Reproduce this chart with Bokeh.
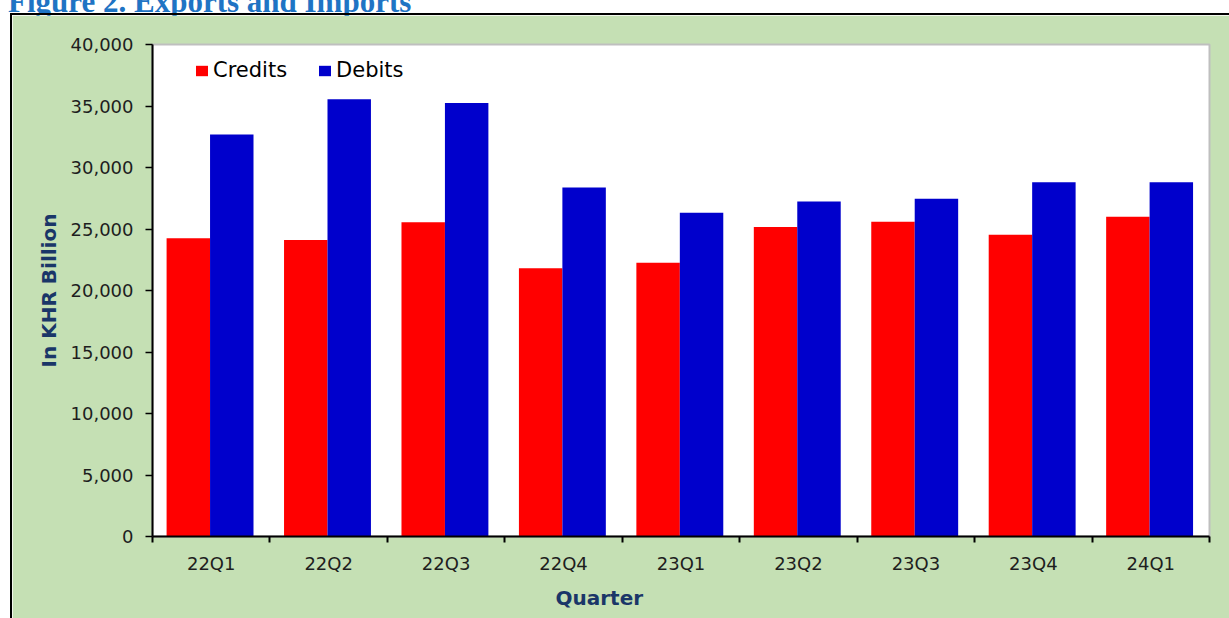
from bokeh.plotting import figure
from bokeh.models import (Range1d, FixedTicker, NumeralTickFormatter, Legend, LegendItem,
                          Title, Div, Spacer, ColumnDataSource)
from bokeh.layouts import column, row
from bokeh.embed import file_html
from bokeh.resources import INLINE

quarters = ["22Q1", "22Q2", "22Q3", "22Q4", "23Q1", "23Q2", "23Q3", "23Q4", "24Q1"]
credits = [24240, 24100, 25540, 21800, 22260, 25160, 25590, 24530, 26000]
debits = [32680, 35540, 35240, 28380, 26320, 27240, 27450, 28800, 28800]
y_ticks = [0, 5000, 10000, 15000, 20000, 25000, 30000, 35000, 40000]

GREEN = "#c5e0b4"
NAVY = "#1a3668"
TICK_COLOR = "#1e1e1e"

centers = [i + 0.5 for i in range(len(quarters))]
src = ColumnDataSource(dict(
    xc=[c - 0.195 for c in centers],
    xd=[c + 0.175 for c in centers],
    credits=credits, debits=debits))

p = figure(width=1217, height=603, output_backend="svg", toolbar_location=None,
           x_range=Range1d(0, len(quarters)), y_range=Range1d(0, 40000),
           min_border_left=140, min_border_right=20, min_border_top=29, min_border_bottom=82,
           margin=0)
p.border_fill_color = GREEN
p.background_fill_color = "white"
p.outline_line_color = "#bfbfbf"
p.outline_line_width = 2
p.xgrid.visible = False
p.ygrid.visible = False

r1 = p.vbar(x="xc", top="credits", width=0.37, source=src, fill_color="#ff0000", line_color=None)
r2 = p.vbar(x="xd", top="debits", width=0.37, source=src, fill_color="#0000cc", line_color=None)

# x axis
xa = p.xaxis[0]
xa.ticker = FixedTicker(ticks=centers, minor_ticks=list(range(len(quarters) + 1)))
xa.major_label_overrides = {c: q for c, q in zip(centers, quarters)}
xa.major_tick_out = 0
xa.major_tick_in = 0
xa.minor_tick_out = 6
xa.minor_tick_in = 0
xa.minor_tick_line_color = "black"
xa.minor_tick_line_width = 2
xa.axis_line_color = "black"
xa.axis_line_width = 2
xa.major_label_text_font = "DejaVu Sans"
xa.major_label_text_font_size = "18px"
xa.major_label_text_color = TICK_COLOR
xa.major_label_standoff = 10

# y axis
ya = p.yaxis[0]
ya.ticker = FixedTicker(ticks=y_ticks)
ya.formatter = NumeralTickFormatter(format="0,0")
ya.major_tick_out = 7
ya.major_tick_in = 0
ya.minor_tick_out = 0
ya.minor_tick_in = 0
ya.major_tick_line_color = "black"
ya.major_tick_line_width = 1.5
ya.axis_line_color = "black"
ya.axis_line_width = 2
ya.major_label_text_font = "DejaVu Sans"
ya.major_label_text_font_size = "18px"
ya.major_label_text_color = TICK_COLOR
ya.major_label_standoff = 12
ya.axis_label = "In KHR Billion"
ya.axis_label_text_font = "DejaVu Sans"
ya.axis_label_text_font_size = "20px"
ya.axis_label_text_font_style = "bold"
ya.axis_label_text_color = NAVY
ya.axis_label_standoff = 7

# x axis title
p.add_layout(Title(text="Quarter", align="left", offset=403, standoff=14,
                   text_font="DejaVu Sans", text_font_size="20px", text_font_style="bold",
                   text_color=NAVY), "below")

legend = Legend(items=[LegendItem(label="Credits", renderers=[r1]),
                       LegendItem(label="Debits", renderers=[r2])],
                location=(42, 454), orientation="horizontal",
                background_fill_alpha=0, border_line_color=None,
                label_text_font="DejaVu Sans", label_text_font_size="21px",
                label_text_color="black",
                glyph_width=15, glyph_height=13, label_standoff=4, spacing=30,
                padding=0, margin=0)
p.add_layout(legend)

title = Div(text=('<div style="margin-top:-34px;padding-left:8px;white-space:nowrap;'
                  'font-family:\'Liberation Serif\';font-weight:bold;font-size:31px;'
                  'line-height:31px;color:#1f74c4">Figure 2. Exports and Imports</div>'),
            width=1229, height=13, margin=0, styles={"overflow": "visible"})

top_line = Spacer(width=1219, height=2, margin=0, styles={"background-color": "black"})
left_line = Spacer(width=2, height=603, margin=0, styles={"background-color": "black"})
left_pad = Spacer(width=10, height=605, margin=0)

layout = column(title, row(left_pad, column(top_line, row(left_line, p, spacing=0), spacing=0),
                           spacing=0), spacing=0, margin=0)

open("out.html", "w").write(file_html(layout, INLINE))
